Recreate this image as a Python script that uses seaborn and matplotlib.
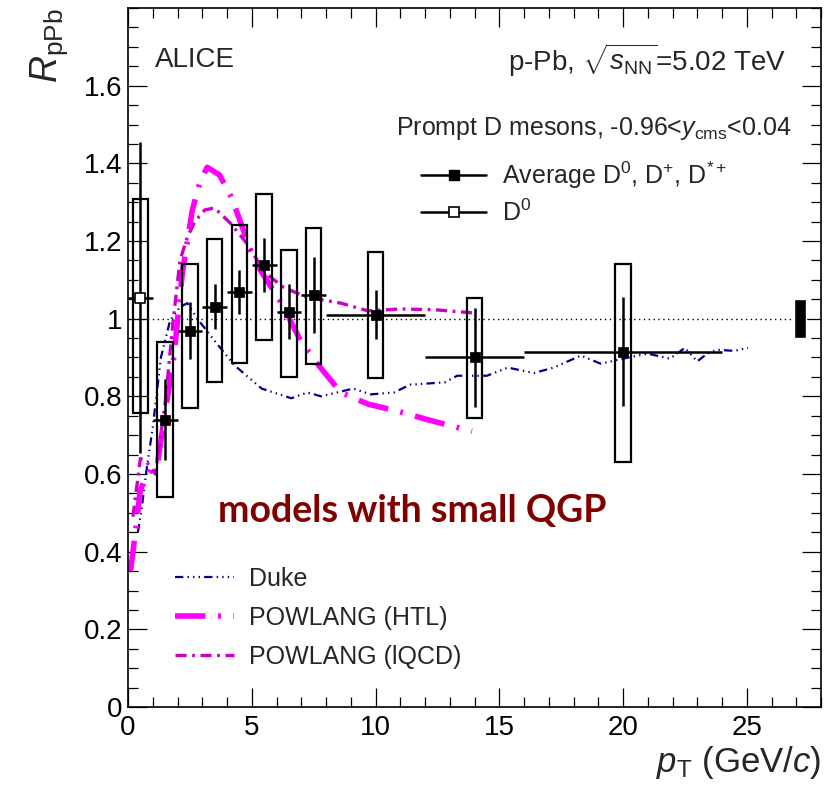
import numpy as np
import pandas as pd
import seaborn as sns
import matplotlib
matplotlib.use("Agg")
import matplotlib.pyplot as plt
from matplotlib.lines import Line2D
from matplotlib.ticker import MultipleLocator, FuncFormatter

# ---------------- data ----------------
pt_avg = [1.5, 2.5, 3.5, 4.5, 5.5, 6.5, 7.5, 10, 14, 20]
pt_halfbin = [0.5, 0.5, 0.5, 0.5, 0.5, 0.5, 0.5, 2, 2, 4]
r_avg = [0.740, 0.969, 1.031, 1.069, 1.139, 1.018, 1.062, 1.010, 0.900, 0.915]
stat_avg = [0.105, 0.074, 0.058, 0.057, 0.070, 0.070, 0.098, 0.063, 0.128, 0.140]
syst_lo_avg = [0.540, 0.771, 0.838, 0.887, 0.946, 0.851, 0.884, 0.846, 0.743, 0.630]
syst_hi_avg = [0.941, 1.141, 1.206, 1.242, 1.321, 1.177, 1.234, 1.172, 1.054, 1.141]

pt_d0 = [0.5]
pt_halfbin_d0 = [0.5]
r_d0 = [1.054]
stat_d0 = [0.40]
syst_lo_d0 = [0.756]
syst_hi_d0 = [1.308]

norm_unc = [0.95, 1.05]

duke_pt = [0.4, 0.55, 0.77, 1.0, 1.33, 1.7, 2.1, 2.4, 2.8, 3.6, 4.3, 5.4, 6.6, 7.25, 7.8,
           9.1, 9.8, 10.75, 11.4, 12.8, 13.3, 14.5, 15.35, 16.4, 17.2, 18.3, 19.1, 20.0,
           21.0, 21.9, 22.5, 23.0, 23.4, 23.8, 24.5, 25.05]
duke_r = [0.45, 0.51, 0.62, 0.72, 0.90, 0.995, 1.03, 1.04, 1.0, 0.935, 0.88, 0.82, 0.795,
          0.81, 0.80, 0.82, 0.805, 0.81, 0.83, 0.836, 0.853, 0.853, 0.874, 0.86, 0.874,
          0.905, 0.884, 0.897, 0.91, 0.897, 0.925, 0.89, 0.91, 0.92, 0.917, 0.925]

htl_pt = [0.1, 0.3, 0.5, 0.8, 1.2, 1.5, 1.85, 2.2, 2.6, 2.9, 3.2, 3.7, 4.2, 5.1, 6.2,
          7.0, 7.7, 8.6, 9.7, 11.0, 12.1, 13.9]
htl_r = [0.35, 0.45, 0.56, 0.60, 0.63, 0.76, 0.90, 1.12, 1.28, 1.35, 1.39, 1.37, 1.31,
         1.15, 1.04, 0.94, 0.88, 0.81, 0.78, 0.76, 0.74, 0.71]

lqcd_pt = [0.2, 0.36, 0.5, 0.76, 1.1, 1.5, 1.8, 2.1, 2.4, 2.7, 3.1, 3.5, 4.15, 4.85,
           5.5, 6.3, 7.25, 8.6, 9.7, 11.0, 12.4, 13.9]
lqcd_r = [0.49, 0.57, 0.64, 0.63, 0.60, 0.78, 0.98, 1.15, 1.21, 1.25, 1.28, 1.285,
          1.245, 1.19, 1.12, 1.08, 1.055, 1.04, 1.02, 1.025, 1.023, 1.015]

model_labels = ["Duke", "POWLANG (HTL)", "POWLANG (lQCD)"]
data_labels = ["Average D$^{0}$, D$^{+}$, D$^{*+}$", "D$^{0}$"]

# ---------------- style ----------------
sns.set_theme(style="ticks")
plt.rcParams["font.family"] = ["Liberation Sans", "DejaVu Sans"]
plt.rcParams["mathtext.fontset"] = "custom"
plt.rcParams["mathtext.rm"] = "Liberation Sans"
plt.rcParams["mathtext.it"] = "Liberation Sans:italic"
plt.rcParams["mathtext.bf"] = "Liberation Sans:bold"
plt.rcParams["lines.scale_dashes"] = False

fig = plt.figure(figsize=(8.24, 7.95), dpi=100)
ax = fig.add_axes([128 / 824, 88 / 795, 693 / 824, 699 / 795])

# systematic boxes
lo = np.array(syst_lo_avg); hi = np.array(syst_hi_avg)
ax.bar(pt_avg, hi - lo, bottom=lo, width=0.62, fill=False, edgecolor="black", lw=1.6, zorder=3)
lo0 = np.array(syst_lo_d0); hi0 = np.array(syst_hi_d0)
ax.bar(pt_d0, hi0 - lo0, bottom=lo0, width=0.62, fill=False, edgecolor="black", lw=1.6, zorder=3)
# normalisation box
ax.bar([27.15], [norm_unc[1] - norm_unc[0]], bottom=norm_unc[0], width=0.52, color="black", zorder=3)

# unity line
ax.hlines(1.0, 0, 26.9, colors="black", linestyles=(0, (1, 2.5)), lw=1.0, zorder=1)

# models
sns.lineplot(x=duke_pt, y=duke_r, ax=ax, color="#00008B", lw=1.6, estimator=None, sort=False)
ax.lines[-1].set_dashes((6, 3, 1, 3, 1, 3, 1, 3))
sns.lineplot(x=htl_pt, y=htl_r, ax=ax, color="#FF00FF", lw=4.0, estimator=None, sort=False)
ax.lines[-1].set_dashes((22, 9, 2, 9))
sns.lineplot(x=lqcd_pt, y=lqcd_r, ax=ax, color="#CC00CC", lw=2.4, estimator=None, sort=False)
ax.lines[-1].set_dashes((8, 4, 2, 4))

# stat errors
ax.errorbar(pt_avg, r_avg, yerr=stat_avg, xerr=pt_halfbin, fmt="none", ecolor="black",
            elinewidth=1.8, capsize=0, zorder=4)
ax.errorbar(pt_d0, r_d0, yerr=stat_d0, xerr=pt_halfbin_d0, fmt="none", ecolor="black",
            elinewidth=1.8, capsize=0, zorder=4)
sns.scatterplot(x=pt_avg, y=r_avg, ax=ax, marker="s", s=60, color="black", edgecolor="black",
                linewidth=0.5, zorder=5)
sns.scatterplot(x=pt_d0, y=r_d0, ax=ax, marker="s", s=45, color="white", edgecolor="black",
                linewidth=1.2, zorder=5)

# axes
ax.set_xlim(0, 28)
ax.set_ylim(0, 1.8)
ax.xaxis.set_major_locator(MultipleLocator(5))
ax.xaxis.set_minor_locator(MultipleLocator(1))
fmt = FuncFormatter(lambda v, p: "%g" % round(v, 2))
ax.xaxis.set_major_formatter(fmt)
ax.yaxis.set_major_formatter(fmt)
ax.set_yticks(np.arange(0, 1.61, 0.2))
ax.yaxis.set_minor_locator(MultipleLocator(0.05))
ax.tick_params(which="both", direction="in", top=True, right=True, width=0.9, colors="black",
               labelsize=20)
ax.tick_params(which="major", length=14)
ax.tick_params(which="minor", length=7)
ax.tick_params(axis="x", pad=6)
ax.tick_params(axis="y", pad=4)
for s in ax.spines.values():
    s.set_linewidth(1.2)
    s.set_color("black")

ax.set_xlabel("$p_{\\rm T}$ (GeV/$c$)", fontsize=25, loc="right", labelpad=2)
ax.set_ylabel("$R_{\\rm pPb}$", fontsize=27, loc="top", labelpad=10)

# texts
ax.text(1.1, 1.665, "ALICE", fontsize=20, va="center", ha="left")
ax.text(26.6, 1.665, "p-Pb, $\\sqrt{s_{\\rm NN}}$=5.02 TeV", fontsize=20, va="center", ha="right")
ax.text(26.8, 1.49, "Prompt D mesons, -0.96<$y_{\\rm cms}$<0.04", fontsize=18, va="center", ha="right")
ax.text(11.5, 0.506, "models with small QGP", fontfamily=["Lato", "DejaVu Sans"], fontweight="bold",
        color="#800000", fontsize=27, ha="center", va="center")

# legends
h_data = [Line2D([], [], color="black", lw=1.8, marker="s", markersize=7.5),
          Line2D([], [], color="black", lw=1.8, marker="s", markersize=6.5,
                 markerfacecolor="white", markeredgewidth=1.2)]
leg1 = ax.legend(h_data, data_labels, loc="upper left", bbox_to_anchor=(0.423, 0.783),
                 frameon=False, fontsize=18, handlelength=2.6, handletextpad=0.65,
                 labelspacing=0.35, borderaxespad=0, borderpad=0)
ax.add_artist(leg1)
h_mod = [Line2D([], [], color="#00008B", lw=1.6, dashes=(6, 3, 1, 3, 1, 3, 1, 3)),
         Line2D([], [], color="#FF00FF", lw=4.0, dashes=(22, 9, 2, 9)),
         Line2D([], [], color="#CC00CC", lw=2.4, dashes=(8, 4, 2, 4))]
ax.legend(h_mod, model_labels, loc="upper left", bbox_to_anchor=(0.068, 0.2),
          frameon=False, fontsize=18, handlelength=2.35, handletextpad=0.6,
          labelspacing=0.6, borderaxespad=0, borderpad=0)

fig.savefig("out.png", dpi=100)
